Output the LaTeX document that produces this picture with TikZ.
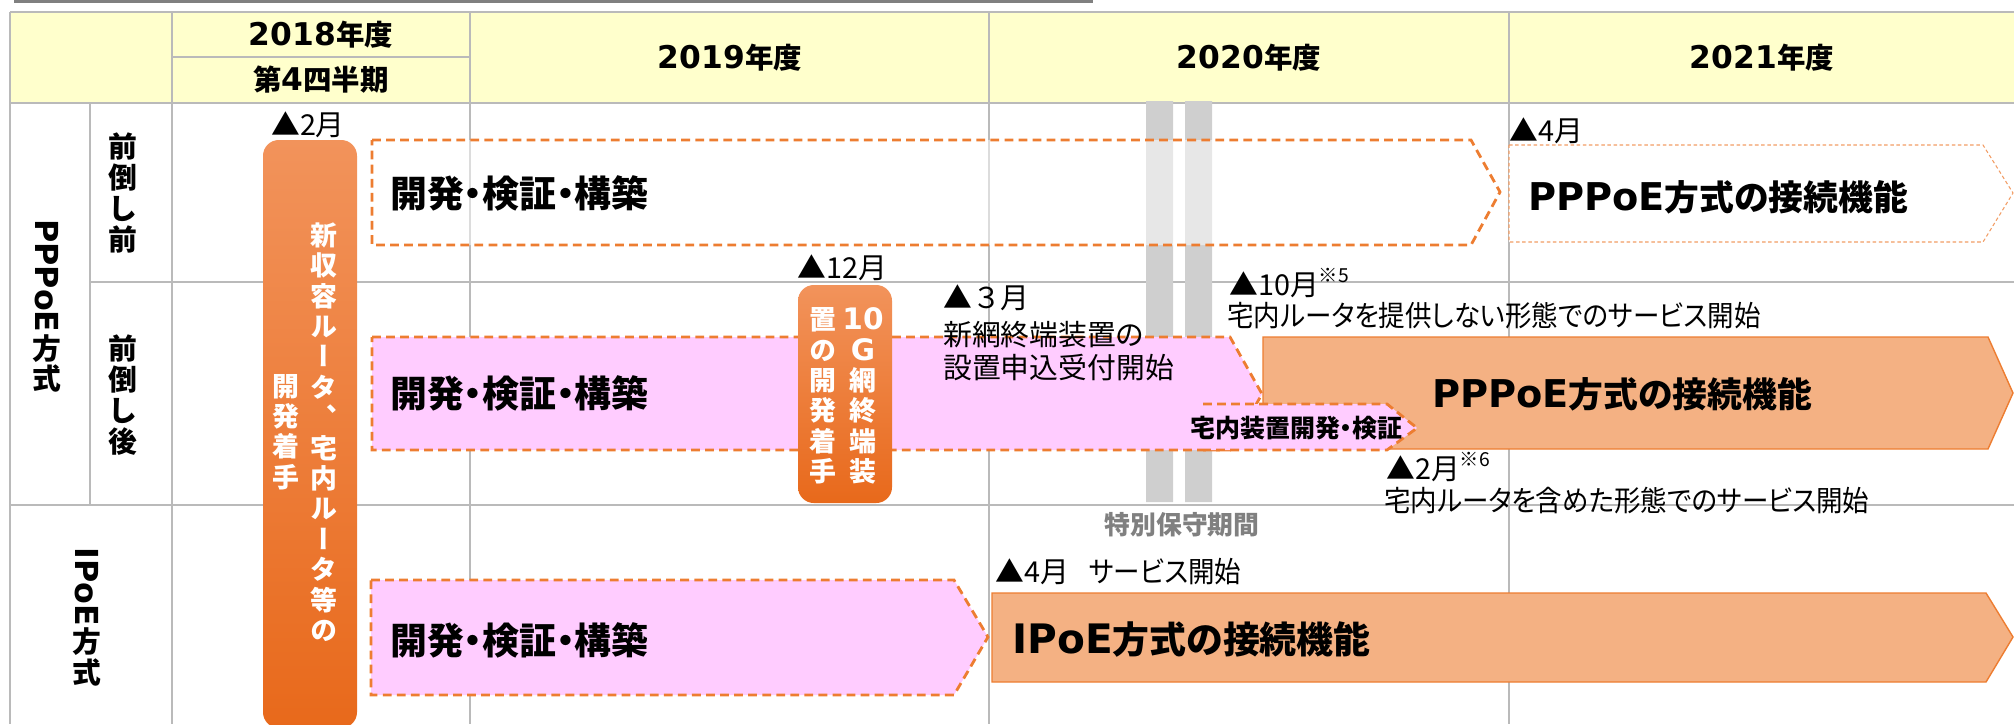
\documentclass[tikz,border=0pt]{standalone}
\usepackage{fontspec}
\setmainfont{Noto Sans CJK JP}[RawFeature=+palt]
\newfontfamily\plainjp{Noto Sans CJK JP}
\newfontfamily\tatefont{Noto Sans CJK JP}[RawFeature=+vert]
\newfontfamily\latinpart{DejaVu Sans}[Scale=1.1]

\definecolor{head fill}{HTML}{FFFFCC}
\colorlet{grid line}{black!27}
\definecolor{plan edge}{HTML}{ED7D31}
\definecolor{dev pink}{HTML}{FFCCFF}
\definecolor{func fill}{HTML}{F4B183}
\definecolor{start top}{HTML}{F2935B}
\definecolor{start bottom}{HTML}{E8691B}
\colorlet{keep bar}{black!19}

\def\devfirst{(372,140) -- (1471,140) -- (1500,192) -- (1471,245) -- (372,245) -- cycle}
\def\devsecond{(372,337) -- (1230,337) -- (1262,394) -- (1230,450) -- (372,450) -- cycle}
\def\devthird{(371,580) -- (954,580) -- (988,637) -- (954,695) -- (371,695) -- cycle}
\def\homedev{(1203,404) -- (1387,404) -- (1417,428) -- (1387,450) -- (1203,450)}
\def\funcfirst{(1509,145) -- (1983,145) -- (2013,193) -- (1983,242) -- (1509,242) -- cycle}
\def\funcsecond{(1263,337) -- (1988,337) -- (2013,393) -- (1988,449) -- (1263,449) -- cycle}
\def\functhird{(992,593) -- (1986,593) -- (2013,637) -- (1986,682) -- (992,682) -- cycle}

\tikzset{table line/.style={draw=grid line, line width=0.9pt},
	top rule/.style={draw=black!50, line width=1.2pt},
	plan/.style={draw=plan edge, line width=1.6pt, dash pattern=on 5pt off 3pt},
	func/.style={fill=func fill, draw=plan edge, line width=0.8pt},
	func dotted/.style={fill=white, draw=plan edge!75, line width=0.6pt, dash pattern=on 2pt off 1.5pt},
	start box/.style={top color=start top, bottom color=start bottom, rounded corners=9pt},
	year head/.style={inner sep=0pt, font=\fontsize{16.2pt}{18pt}\selectfont\bfseries},
	side label/.style={align=center, inner sep=0pt, font=\fontsize{16.4pt}{17.6pt}\selectfont\bfseries},
	tate text/.style={align=center, inner sep=0pt, text=white, font=\tatefont\fontsize{15.3pt}{17.3pt}\selectfont\bfseries},
	big text/.style={anchor=west, inner sep=0pt, font=\fontsize{21pt}{23pt}\selectfont\bfseries},
	func text/.style={anchor=west, inner sep=0pt, font=\fontsize{19.8pt}{22pt}\selectfont\bfseries},
	note text/.style={anchor=west, inner sep=0pt, font=\fontsize{16.4pt}{18pt}\selectfont},
	home text/.style={anchor=west, inner sep=0pt, font=\fontsize{14.2pt}{15pt}\selectfont\bfseries},
	keep label/.style={inner sep=0pt, text=black!50, font=\fontsize{14.7pt}{16pt}\selectfont\bfseries}}

\newcommand\kome[1]{\raisebox{.42em}{\fontsize{11pt}{12pt}\selectfont ※#1}}
\newcommand\narrow[1]{\scalebox{0.92}[1]{#1}}

\begin{document}
\begin{tikzpicture}[x=0.02cm,y=-0.02cm]
	\useasboundingbox (0,0) rectangle (2014,724);
	% table
	\fill[head fill] (10,12) rectangle (2014,103);
	\draw[top rule] (14,1.5) -- (1093,1.5);
	\draw[table line] (10,12) -- (2014,12) (10,103) -- (2014,103) (172,57) -- (470,57)
		(90,282) -- (2014,282) (10,505) -- (2014,505) (10,12) -- (10,724) (90,103) -- (90,505);
	\foreach \x in {172,470,989,1509}
		\draw[table line] (\x,12) -- (\x,724);
	
	% special maintenance period
	\fill[keep bar] (1146,101) rectangle (1173,502) (1185,101) rectangle (1212,502);
	
	% development and functions
	\fill[white, fill opacity=0.5] \devfirst;
	\fill[dev pink] \devsecond;
	\fill[dev pink] \devthird;
	\draw[plan] \devfirst;
	\draw[plan] \devsecond;
	\draw[plan] \devthird;
	\draw[func] \funcsecond;
	\draw[func] \functhird;
	\fill[dev pink] \homedev -- cycle;
	\draw[plan] \homedev;
	\draw[func dotted] \funcfirst;
	
	% development start
	\path[start box] (263,140) rectangle (357,728);
	\path[start box] (798,285) rectangle (892,503);
	
	\node[year head] (y2018) at (321,35) {{\latinpart 2018}年度};
	\node[year head] (q4) at (321,80) {第{\latinpart 4}四半期};
	\node[year head] (y2019) at (730,58) {{\latinpart 2019}年度};
	\node[year head] (y2020) at (1249,58) {{\latinpart 2020}年度};
	\node[year head] (y2021) at (1762,58) {{\latinpart 2021}年度};
	
	\node[side label] (pppoe) at (47,306) {\rotatebox{-90}{\latinpart PPPoE}\\方\\式};
	\node[side label] (before) at (123,193) {前\\倒\\し\\前};
	\node[side label] (after) at (123,395) {前\\倒\\し\\後};
	\node[side label] (ipoe) at (87,617) {\rotatebox{-90}{\latinpart IPoE}\\方\\式};
	
	\node[tate text] (router a) at (324,432) {新\\収\\容\\ル\\ー\\タ\\、\\宅\\内\\ル\\ー\\タ\\等\\の};
	\node[tate text] (router b) at (286,432) {開\\発\\着\\手};
	\node[tate text] (onu a) at (863,396) {{\latinpart 10}\\{\latinpart G}\\網\\終\\端\\装};
	\node[tate text] (onu b) at (823,396) {置\\の\\開\\発\\着\\手};
	
	\node[note text, anchor=center] (feb) at (308,125) {▲2月};
	\node[big text] (dev a) at (390,193) {開発・検証・構築};
	\node[note text] (apr a) at (1509,131) {▲4月};
	\node[func text] (func a) at (1528,197) {{\latinpart PPPoE}方式の接続機能};
	
	\node[big text] (dev b) at (390,393) {開発・検証・構築};
	\node[note text, anchor=center] (dec) at (842,268) {▲12月};
	\node[note text] (mar) at (943,298) {\plainjp ▲３月};
	\node[note text] (order a) at (943,335) {新網終端装置の};
	\node[note text] (order b) at (943,368) {設置申込受付開始};
	\node[note text] (oct) at (1229,283) {▲10月\kome{5}};
	\node[note text] (oct note) at (1227,316) {\narrow{宅内ルータを提供しない形態でのサービス開始}};
	\node[func text] (func b) at (1432,394) {{\latinpart PPPoE}方式の接続機能};
	\node[home text] (home) at (1190,428) {宅内装置開発・検証};
	\node[note text] (feb b) at (1386,467) {▲2月\kome{6}};
	\node[note text] (feb note) at (1384,501) {\narrow{宅内ルータを含めた形態でのサービス開始}};
	\node[keep label] (keep) at (1182,525) {特別保守期間};
	
	\node[big text] (dev c) at (390,640) {開発・検証・構築};
	\node[note text] (apr b) at (995,572) {▲4月\hspace{0.7em}\narrow{サービス開始}};
	\node[big text] (func c) at (1012,640) {{\latinpart IPoE}方式の接続機能};
\end{tikzpicture}
\end{document}
